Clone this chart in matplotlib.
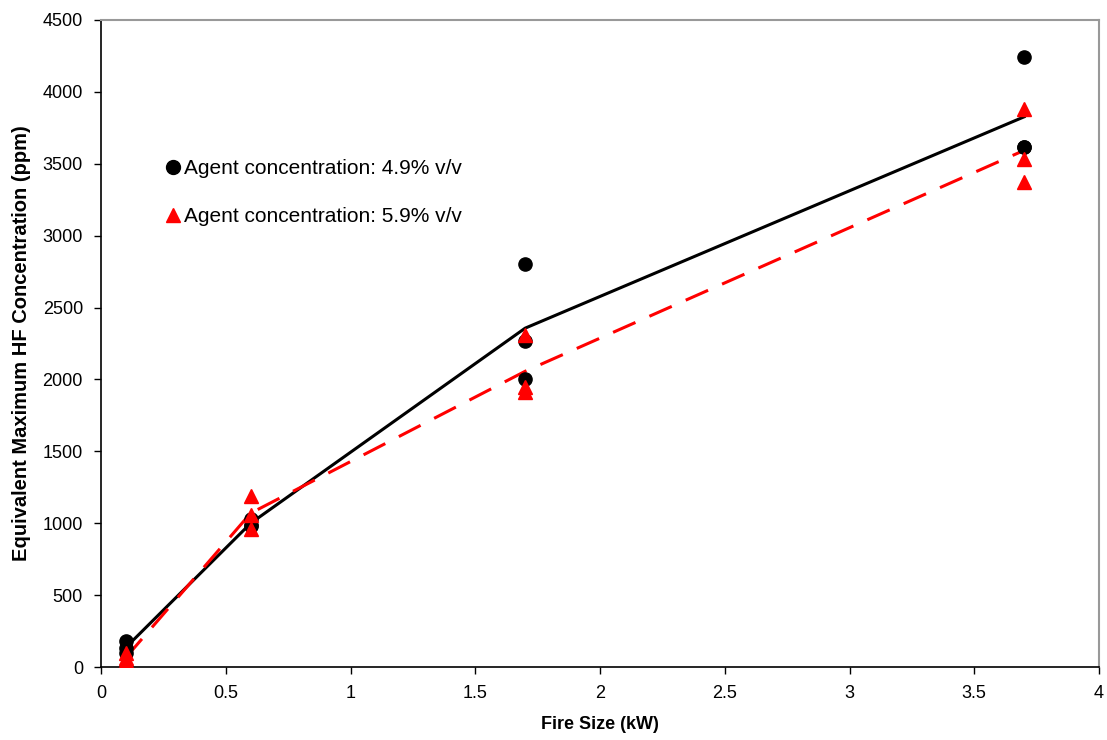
import numpy as np
import matplotlib
matplotlib.use("Agg")
import matplotlib.pyplot as plt
from matplotlib.lines import Line2D

plt.rcParams['font.family'] = ['Liberation Sans', 'DejaVu Sans']

fire_sizes = [0.1, 0.6, 1.7, 3.7]
hf_49 = [[180, 130, 100], [1030, 980, 990], [2800, 2270, 2000], [4240, 3620, 3620]]
hf_59 = [[100, 60, 40], [1190, 1060, 960], [2310, 1950, 1910], [3880, 3530, 3370]]
label_49 = "Agent concentration: 4.9% v/v"
label_59 = "Agent concentration: 5.9% v/v"

fig = plt.figure(figsize=(11.07, 7.4), dpi=100)
ax = fig.add_axes([101/1107, 1-667/740, (1099-101)/1107, (667-20)/740])

mean_49 = [np.mean(v) for v in hf_49]
mean_59 = [np.mean(v) for v in hf_59]

ax.plot(fire_sizes, mean_49, color='black', lw=2.2, zorder=2)
ax.plot(fire_sizes, mean_59, color='red', lw=2.2, dashes=(8, 5), zorder=2)

for x, vals in zip(fire_sizes, hf_49):
    ax.plot([x]*len(vals), vals, 'o', color='black', ms=9.5, ls='none', zorder=3)
for x, vals in zip(fire_sizes, hf_59):
    ax.plot([x]*len(vals), vals, '^', color='red', ms=9.5, ls='none', zorder=4)

ax.set_xlim(0, 4)
ax.set_ylim(0, 4500)
ax.set_xticks(np.arange(0, 4.01, 0.5))
ax.set_xticklabels(['0', '0.5', '1', '1.5', '2', '2.5', '3', '3.5', '4'])
ax.set_yticks(np.arange(0, 4501, 500))
ax.tick_params(direction='out', length=5, width=1, labelsize=13, pad=8, colors='black')
ax.set_xlabel('Fire Size (kW)', fontsize=13, fontweight='bold', labelpad=10)
ax.set_ylabel('Equivalent Maximum HF Concentration (ppm)', fontsize=14.5, fontweight='bold', labelpad=8)

for s in ['left', 'bottom']:
    ax.spines[s].set_color('black')
    ax.spines[s].set_linewidth(1.2)
for s in ['top', 'right']:
    ax.spines[s].set_color('#999999')
    ax.spines[s].set_linewidth(1.5)

handles = [Line2D([], [], marker='o', color='black', ls='none', ms=10),
           Line2D([], [], marker='^', color='red', ls='none', ms=10)]
ax.legend(handles, [label_49, label_59], loc='upper left', bbox_to_anchor=(0.053, 0.798),
          frameon=False, fontsize=15, handletextpad=0.05, labelspacing=1.4, handlelength=1.0,
          borderaxespad=0)

fig.savefig('out.png', dpi=100)
